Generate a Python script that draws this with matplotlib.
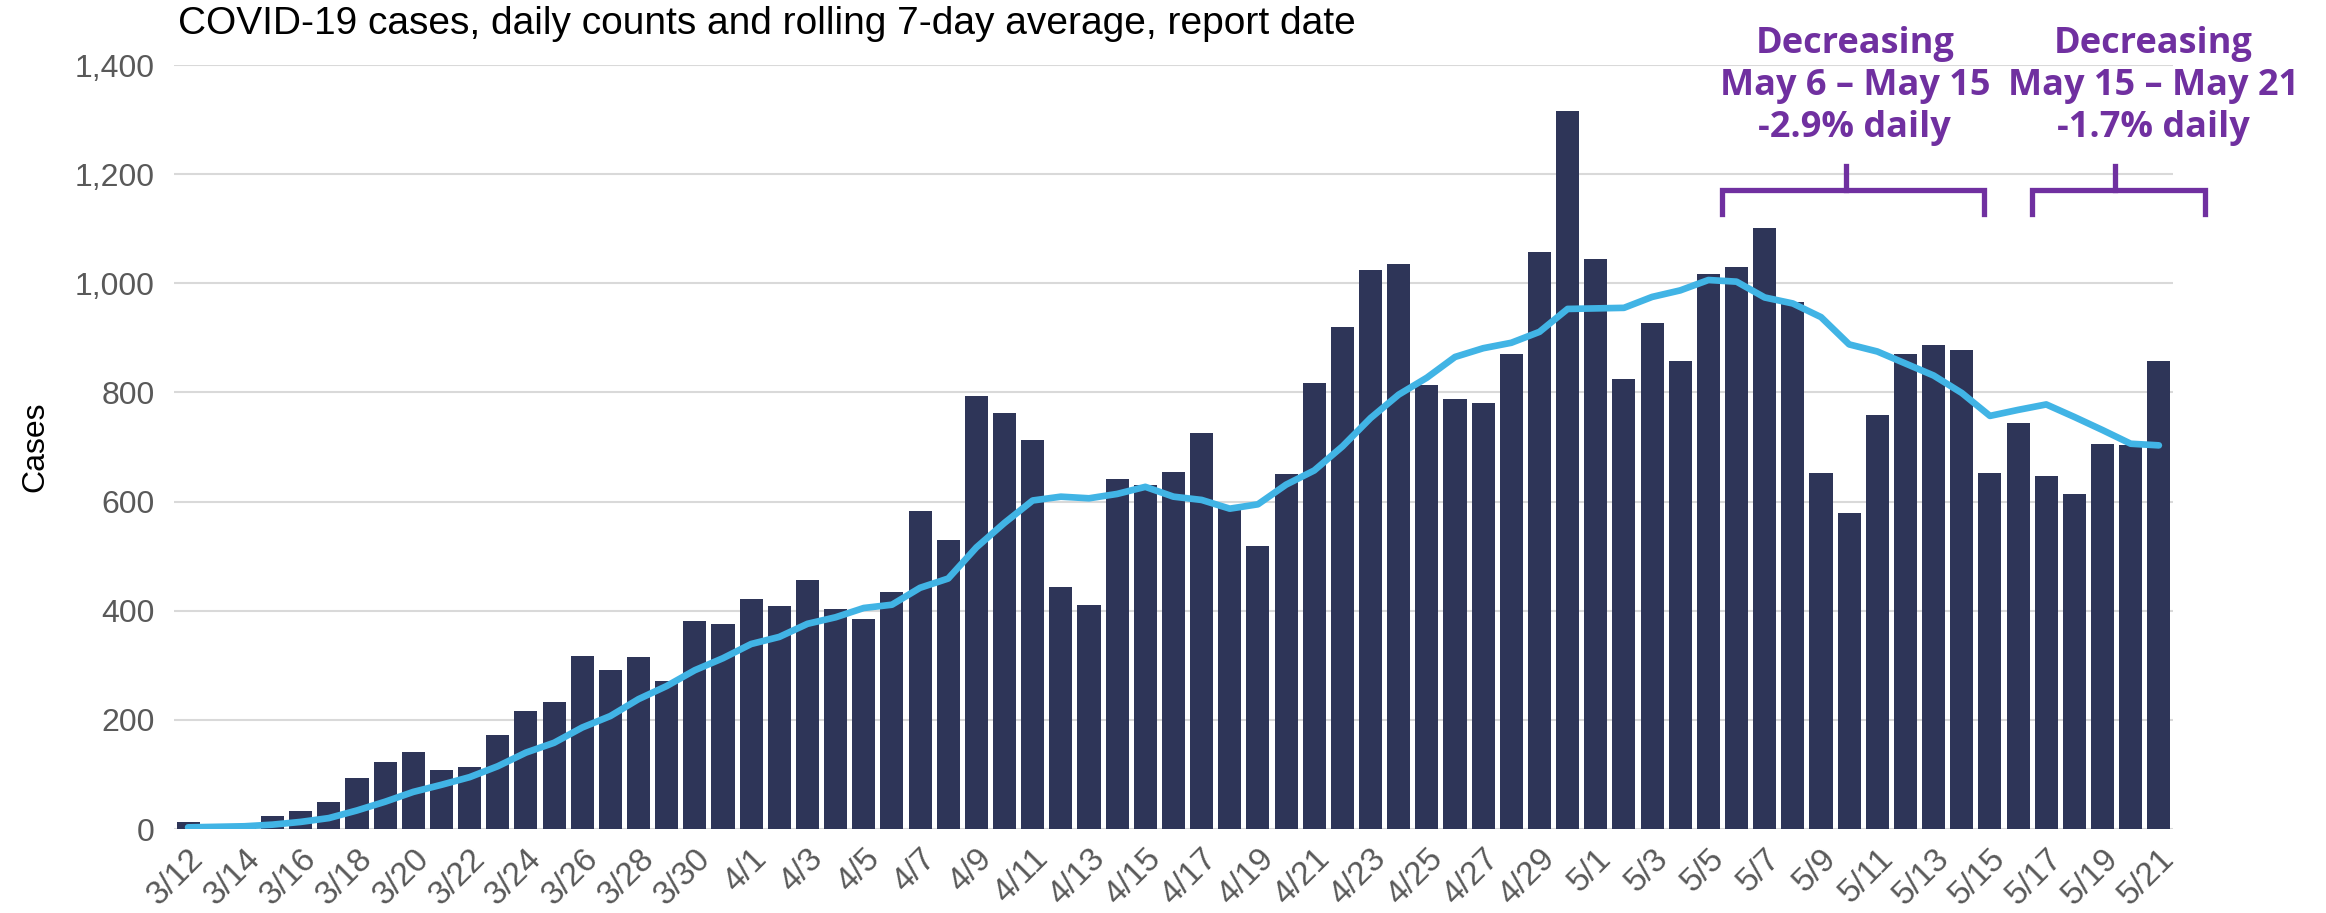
import numpy as np
import pandas as pd
import matplotlib
matplotlib.use("Agg")
import matplotlib.pyplot as plt

# Даты: 3/12 .. 5/21
dates = pd.date_range("2020-03-12", "2020-05-21", freq="D")
date_labels = [f"{d.month}/{d.day}" for d in dates]

# Ежедневные случаи
daily_cases = [
    12, 3, 5, 23, 33, 50, 94, 123, 142, 109,
    114, 172, 217, 233, 317, 292, 316, 271, 381, 376,
    422, 409, 457, 404, 384, 434, 583, 530, 793, 763,
    713, 443, 411, 642, 630, 654, 726, 591, 518, 650,
    817, 920, 1024, 1035, 813, 788, 781, 871, 1058, 1316,
    1044, 824, 927, 857, 1017, 1029, 1101, 965, 653, 579,
    759, 871, 887, 877, 652, 744, 646, 613, 706, 703,
    857,
]

# Скользящее среднее за 7 дней
rolling_avg = [
    3, 4, 5, 8, 13, 20, 34, 50, 68, 81,
    95, 115, 140, 158, 186, 207, 238, 262, 291, 313,
    339, 352, 376, 388, 405, 411, 442, 459, 516, 561,
    602, 609, 606, 614, 627, 609, 603, 587, 595, 631,
    657, 701, 753, 796, 827, 865, 881, 891, 911, 953,
    954, 955, 975, 987, 1006, 1003, 974, 963, 938, 888,
    875, 853, 831, 799, 757, 768, 778, 755, 731, 706,
    703,
]

# Аннотации: (текст, центр x, левый край, правый край, ножка)
notes = [
    ("Decreasing\nMay 6 \u2013 May 15\n-2.9% daily", 59.2, 54.5, 63.8, 58.9),
    ("Decreasing\nMay 15 \u2013 May 21\n-1.7% daily", 69.8, 65.5, 71.65, 68.45),
]

bar_color = "#2E3558"
line_color = "#41B4E5"
purple = "#7030A0"
grey = "#595959"

plt.rcParams["font.family"] = ["Liberation Sans", "DejaVu Sans"]

fig = plt.figure(figsize=(23.26, 9.13), dpi=100)
ax = fig.add_axes([0.0748, 0.092, 0.8594, 0.8368])

x = np.arange(len(daily_cases))
ax.bar(x, daily_cases, width=0.82, color=bar_color, zorder=2)
ax.plot(x, rolling_avg, color=line_color, lw=4.8, zorder=3, solid_capstyle="round")

ax.set_xlim(-0.5, len(x) - 0.5)
ax.set_ylim(0, 1400)
ax.set_yticks(np.arange(0, 1401, 200))
ax.set_yticklabels([f"{v:,}" for v in range(0, 1401, 200)])
ax.yaxis.grid(True, color="#D9D9D9", lw=1.5, zorder=0)
ax.set_axisbelow(True)
for s in ax.spines.values():
    s.set_visible(False)
ax.tick_params(axis="both", length=0, labelsize=23, labelcolor=grey)
ax.tick_params(axis="y", pad=14)

ax.set_xticks(x[::2])
ax.set_xticklabels(date_labels[::2], rotation=45, ha="right",
                   rotation_mode="anchor", fontsize=24)
ax.tick_params(axis="x", pad=10)

ax.set_ylabel("Cases", fontsize=23, color="black")
ax.yaxis.set_label_coords(-0.062, 0.5)

fig.text(0.0765, 0.974, "COVID-19 cases, daily counts and rolling 7-day average, report date",
         fontsize=28, color="black", va="center", ha="left")

for text, cx, left, right, stem in notes:
    ax.plot([left, left, right, right], [1127, 1171, 1171, 1127],
            color=purple, lw=3.8, clip_on=False, solid_joinstyle="miter", zorder=4)
    ax.plot([stem, stem], [1171, 1215], color=purple, lw=3.8, clip_on=False, zorder=4)
    ax.text(cx, 1362, text, ha="center", va="center", fontsize=26,
            fontweight="bold", color=purple, linespacing=1.22,
            family=["Open Sans", "DejaVu Sans"], clip_on=False)

fig.savefig("out.png", dpi=100)
